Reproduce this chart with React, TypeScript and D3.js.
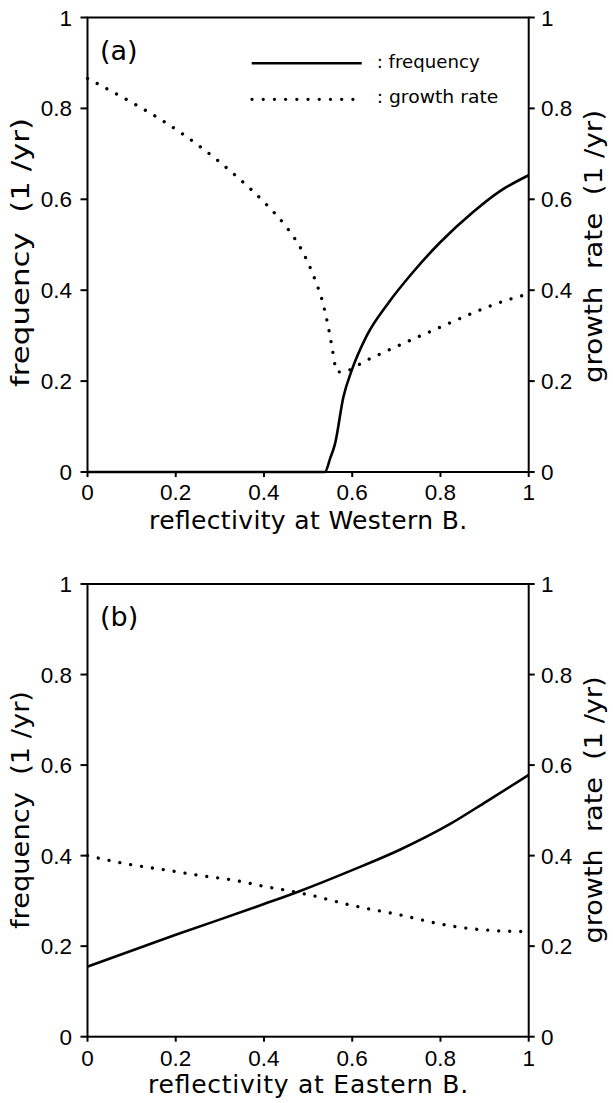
import React from 'react';
import * as d3 from 'd3';

// ---- data ----
const tickValues = [0, 0.2, 0.4, 0.6, 0.8, 1];
const tickLabels = ['0', '0.2', '0.4', '0.6', '0.8', '1'];

// Panel (a): reflectivity at Western boundary
const aFreqX = [0, 0.2, 0.4, 0.538, 0.55, 0.561, 0.58, 0.599, 0.633, 0.682, 0.738, 0.799, 0.874, 0.935, 1.0];
const aFreqY = [0, 0, 0, 0, 0.03, 0.062, 0.165, 0.224, 0.3, 0.372, 0.44, 0.505, 0.572, 0.618, 0.653];
const aGrowX = [0, 0.104, 0.18, 0.255, 0.33, 0.406, 0.45, 0.49, 0.515, 0.534, 0.546, 0.555, 0.561, 0.565, 0.576, 0.633, 0.784, 0.95, 1.0];
const aGrowY = [0.866, 0.811, 0.767, 0.716, 0.657, 0.588, 0.54, 0.48, 0.425, 0.37, 0.318, 0.27, 0.235, 0.221, 0.22, 0.246, 0.312, 0.378, 0.392];

// Panel (b): reflectivity at Eastern boundary
const bFreqX = [0, 0.2, 0.4, 0.482, 0.6, 0.708, 0.822, 0.905, 1.0];
const bFreqY = [0.155, 0.225, 0.293, 0.322, 0.368, 0.413, 0.47, 0.52, 0.578];
const bGrowX = [0, 0.104, 0.18, 0.255, 0.33, 0.406, 0.459, 0.504, 0.595, 0.708, 0.822, 0.897, 1.0];
const bGrowY = [0.4, 0.379, 0.368, 0.356, 0.346, 0.331, 0.322, 0.313, 0.291, 0.269, 0.245, 0.236, 0.232];

const W = 613;
const H = 1103;
const XL = 87.5;
const XR = 528.7;
const NUM_FONT = '"Liberation Sans", Arial, sans-serif';
const TXT_FONT = '"DejaVu Sans", sans-serif';

type PanelProps = {
  top: number;
  bottom: number;
  tag: string;
  xTitle: string;
  xTitleLen: number;
  leftLen: number;
  leftCenter: number;
  rightLen: number;
  rightCenter: number;
  tickLabelOffset: number;
  freqX: number[];
  freqY: number[];
  growX: number[];
  growY: number[];
  legend: boolean;
};

function Panel(p: PanelProps) {
  const x = d3.scaleLinear().domain([0, 1]).range([XL, XR]);
  const y = d3.scaleLinear().domain([0, 1]).range([p.bottom, p.top]);
  const line = d3
    .line<[number, number]>()
    .x((d) => x(d[0]))
    .y((d) => y(d[1]))
    .curve(d3.curveMonotoneX);
  const freq = line(p.freqX.map((v, i) => [v, p.freqY[i]] as [number, number])) || '';
  const grow = line(p.growX.map((v, i) => [v, p.growY[i]] as [number, number])) || '';
  const cx = (XL + XR) / 2;

  return (
    <g>
      {/* curves */}
      <path d={grow} fill="none" stroke="#000" strokeWidth={3.3} strokeDasharray="0.01 11" strokeLinecap="round" />
      <path d={freq} fill="none" stroke="#000" strokeWidth={2.6} strokeLinejoin="round" />
      {/* frame */}
      <rect x={XL} y={p.top} width={XR - XL} height={p.bottom - p.top} fill="none" stroke="#000" strokeWidth={2} />
      {/* ticks and labels */}
      {tickValues.map((t, i) => (
        <g key={'l' + i}>
          <line x1={XL - 7} x2={XL} y1={y(t)} y2={y(t)} stroke="#000" strokeWidth={2} />
          <text x={72} y={y(t) + 8} textAnchor="end" fontFamily={NUM_FONT} fontSize={22.5}>
            {tickLabels[i]}
          </text>
          <line x1={XR} x2={XR + 6} y1={y(t)} y2={y(t)} stroke="#000" strokeWidth={2} />
          <text x={541} y={y(t) + 8} textAnchor="start" fontFamily={NUM_FONT} fontSize={22.5}>
            {tickLabels[i]}
          </text>
          <line x1={x(t)} x2={x(t)} y1={p.bottom} y2={p.bottom + 5} stroke="#000" strokeWidth={2} />
          <text x={x(t)} y={p.bottom + p.tickLabelOffset} textAnchor="middle" fontFamily={NUM_FONT} fontSize={22.5}>
            {tickLabels[i]}
          </text>
        </g>
      ))}
      {/* x title */}
      <text
        x={cx}
        y={p.bottom + 56.5}
        textAnchor="middle"
        fontFamily={TXT_FONT}
        fontSize={25}
        textLength={p.xTitleLen}
        lengthAdjust="spacing"
      >
        {p.xTitle}
      </text>
      {/* left title */}
      <text
        transform={`translate(29,${p.leftCenter}) rotate(-90)`}
        textAnchor="middle"
        fontFamily={TXT_FONT}
        fontSize={25}
        textLength={p.leftLen}
        lengthAdjust="spacingAndGlyphs"
        style={{ whiteSpace: 'pre' }}
      >
        {'frequency  (1 /yr)'}
      </text>
      {/* right title */}
      <text
        transform={`translate(602,${p.rightCenter}) rotate(-90)`}
        textAnchor="middle"
        fontFamily={TXT_FONT}
        fontSize={25}
        textLength={p.rightLen}
        lengthAdjust="spacingAndGlyphs"
        style={{ whiteSpace: 'pre' }}
      >
        {'growth  rate  (1 /yr)'}
      </text>
      {/* panel tag */}
      <text x={100} y={p.top + 42} fontFamily={TXT_FONT} fontSize={27}>
        {p.tag}
      </text>
      {p.legend && (
        <g>
          <line x1={251.7} x2={361.7} y1={63.3} y2={63.3} stroke="#000" strokeWidth={2.6} />
          <text x={376.7} y={67.5} fontFamily={TXT_FONT} fontSize={18.5} textLength={103} lengthAdjust="spacingAndGlyphs" style={{ whiteSpace: 'pre' }}>
            {': frequency'}
          </text>
          <line x1={252} x2={364} y1={99.3} y2={99.3} stroke="#000" strokeWidth={3.3} strokeDasharray="0.01 11.2" strokeLinecap="round" />
          <text x={376.7} y={103} fontFamily={TXT_FONT} fontSize={18.5} textLength={121.6} lengthAdjust="spacingAndGlyphs" style={{ whiteSpace: 'pre' }}>
            {': growth rate'}
          </text>
        </g>
      )}
    </g>
  );
}

export default function App() {
  return (
    <svg
      width={W}
      height={H}
      viewBox={`0 0 ${W} ${H}`}
      style={{ position: 'absolute', left: 0, top: 0, background: '#fff' }}
    >
      <rect x={0} y={0} width={W} height={H} fill="#fff" />
      <Panel
        top={17.5}
        bottom={472}
        tag="(a)"
        xTitle="reflectivity at Western B."
        xTitleLen={318}
        leftLen={269}
        leftCenter={252.5}
        rightLen={273}
        rightCenter={246.5}
        tickLabelOffset={27.5}
        freqX={aFreqX}
        freqY={aFreqY}
        growX={aGrowX}
        growY={aGrowY}
        legend={true}
      />
      <Panel
        top={584}
        bottom={1036.7}
        tag="(b)"
        xTitle="reflectivity at Eastern B."
        xTitleLen={320}
        leftLen={238}
        leftCenter={810}
        rightLen={267}
        rightCenter={810}
        tickLabelOffset={29.5}
        freqX={bFreqX}
        freqY={bFreqY}
        growX={bGrowX}
        growY={bGrowY}
        legend={false}
      />
    </svg>
  );
}
